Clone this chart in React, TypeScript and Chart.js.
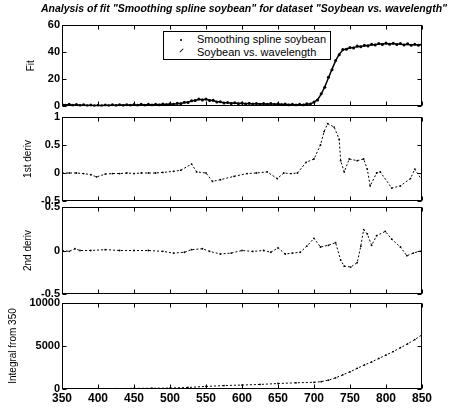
import React, { useEffect, useRef } from "react";
import { Chart, registerables } from "chart.js";
Chart.register(...registerables);

const WAVELENGTHS = [
  350, 355, 360, 365, 370, 375, 380, 385, 390, 395, 400, 405, 410, 415, 420, 425, 430, 435, 440, 445,
  450, 455, 460, 465, 470, 475, 480, 485, 490, 495, 500, 505, 510, 515, 520, 525, 530, 535, 540, 545,
  550, 555, 560, 565, 570, 575, 580, 585, 590, 595, 600, 605, 610, 615, 620, 625, 630, 635, 640, 645,
  650, 655, 660, 665, 670, 675, 680, 685, 690, 695, 700, 705, 710, 715, 720, 725, 730, 735, 740, 745,
  750, 755, 760, 765, 770, 775, 780, 785, 790, 795, 800, 805, 810, 815, 820, 825, 830, 835, 840, 845, 850,
];
const FIT_VALUES = [
  1.3, 1.2, 1.2, 1.1, 1.1, 1.0, 0.9, 0.8, 0.7, 0.6, 0.6, 0.7, 0.8, 0.8, 0.9, 0.9, 1.0, 1.0, 1.0, 1.1,
  1.1, 1.1, 1.2, 1.2, 1.2, 1.3, 1.3, 1.4, 1.4, 1.5, 1.6, 1.8, 2.0, 2.3, 2.7, 3.2, 3.9, 4.6, 5.0, 5.1,
  5.0, 4.7, 4.2, 3.6, 3.1, 2.8, 2.6, 2.5, 2.4, 2.3, 2.2, 2.1, 2.0, 2.0, 1.9, 1.9, 1.8, 1.8, 1.8, 1.7,
  1.6, 1.5, 1.4, 1.4, 1.3, 1.3, 1.3, 1.4, 1.6, 2.0, 3.0, 5.0, 9.0, 14.5, 21.0, 27.5, 33.5, 38.5, 41.5, 42.5,
  43.0, 43.5, 44.0, 44.3, 44.6, 45.0, 45.3, 45.6, 45.9, 46.1, 46.2, 46.2, 46.1, 46.0, 45.8, 45.7, 45.6, 45.5, 45.4, 45.4, 45.4,
];
const DATA_VALUES = [
  1.6, 0.9, 1.5, 0.8, 1.4, 0.7, 1.2, 0.5, 1.0, 0.4, 0.9, 0.4, 1.1, 0.5, 1.2, 0.6, 1.3, 0.7, 1.3, 0.8,
  1.4, 0.8, 1.5, 0.9, 1.5, 1.0, 1.6, 1.1, 1.7, 1.2, 1.9, 1.5, 2.3, 2.0, 3.0, 2.9, 4.2, 4.3, 5.4, 4.8,
  5.4, 4.3, 4.6, 3.3, 3.4, 2.5, 2.9, 2.2, 2.7, 2.0, 2.5, 1.8, 2.3, 1.7, 2.2, 1.6, 2.1, 1.5, 2.1, 1.4,
  1.9, 1.2, 1.7, 1.1, 1.6, 1.0, 1.6, 1.1, 1.9, 1.7, 3.3, 4.7, 9.4, 14.1, 21.4, 27.1, 33.9, 38.1, 41.9, 42.1,
  43.5, 43.0, 44.5, 43.9, 45.1, 44.6, 45.8, 45.2, 46.4, 45.7, 46.7, 45.8, 46.6, 45.6, 46.3, 45.3, 46.1, 45.1, 45.9, 45.0, 45.8,
];

const DERIV1_X = [
  350, 360, 370, 380, 390, 398, 410, 420, 430, 440, 450, 460, 470, 480, 490, 505, 515, 530, 537, 550,
  559, 570, 589, 607, 620, 635, 649, 658, 668, 677, 689, 700, 709, 714, 719, 728, 735, 737, 742, 749,
  760, 769, 774, 778, 787, 792, 808, 820, 834, 840, 850,
];
const DERIV1_Y = [
  0, 0, 0, -0.01, -0.03, -0.07, -0.02, -0.01, -0.01, 0, -0.01, 0, 0, 0, 0.01, 0.03, 0.05, 0.16, 0.02, 0,
  -0.15, -0.12, -0.06, -0.01, 0, 0.02, -0.1, 0, -0.01, 0, 0.19, 0.25, 0.5, 0.74, 0.88, 0.82, 0.6, 0.22, 0.02, 0.25,
  0.22, 0.25, 0.07, -0.23, 0, 0.02, -0.27, -0.23, -0.1, 0.07, -0.13,
];

const DERIV2_X = [
  350, 360, 368, 375, 390, 410, 430, 450, 470, 490, 505, 520, 530, 545, 555, 570, 585, 600, 615, 630,
  640, 650, 660, 670, 681, 690, 700, 709, 720, 730, 737, 742, 751, 760, 765, 769, 774, 780, 787, 799,
  808, 820, 829, 838, 850,
];
const DERIV2_Y = [
  0, -0.01, 0.02, 0, 0, 0.01, 0, 0, 0, -0.01, -0.03, -0.02, 0.01, 0.02, -0.01, -0.04, -0.03, 0, -0.01, 0,
  -0.02, 0.03, -0.04, -0.03, -0.02, 0.05, 0.14, 0.04, 0.06, 0.09, -0.11, -0.18, -0.19, -0.14, 0.05, 0.24, 0.19, 0.06, 0.17, 0.22,
  0.13, 0.04, -0.06, -0.03, 0,
];

const INTEGRAL_X = [
  350, 375, 400, 425, 450, 475, 500, 525, 550, 575, 600, 625, 650, 675, 700, 710, 720, 730, 740, 750,
  760, 770, 780, 790, 800, 810, 820, 830, 840, 850,
];
const INTEGRAL_Y = [
  0, 20, 40, 55, 70, 85, 110, 180, 300, 400, 460, 530, 640, 720, 780, 850, 1030, 1300, 1650, 2000,
  2400, 2800, 3150, 3550, 3950, 4350, 4800, 5250, 5750, 6300,
];

const X_MIN = 350;
const X_MAX = 850;
const X_STEP = 50;

const TITLE = 'Analysis of fit "Smoothing spline soybean" for dataset "Soybean vs. wavelength"';
const LEGEND_LABELS = ["Smoothing spline soybean", "Soybean vs. wavelength"];
const Y_TITLES = ["Fit", "1st deriv", "2nd deriv", "Integral from 350"];

const FONT = "'Liberation Sans', Arial, Helvetica, sans-serif";

const pts = (xs: number[], ys: number[]) => xs.map((x, i) => ({ x, y: ys[i] }));

const boxPlugin = {
  id: "matlabBox",
  afterDraw(chart: any) {
    const { ctx, chartArea: a, scales } = chart;
    ctx.save();
    ctx.strokeStyle = "#000";
    ctx.lineWidth = 1;
    const l = Math.round(a.left) + 0.5;
    const r = Math.round(a.right) - 0.5;
    const t = Math.round(a.top) + 0.5;
    const b = Math.round(a.bottom) - 0.5;
    ctx.strokeRect(l, t, r - l, b - t);
    const L = 4;
    ctx.beginPath();
    scales.x.ticks.forEach((tk: any) => {
      const px = Math.round(scales.x.getPixelForValue(tk.value)) + 0.5;
      ctx.moveTo(px, b);
      ctx.lineTo(px, b - L);
      ctx.moveTo(px, t);
      ctx.lineTo(px, t + L);
    });
    scales.y.ticks.forEach((tk: any) => {
      const py = Math.round(scales.y.getPixelForValue(tk.value)) + 0.5;
      ctx.moveTo(l, py);
      ctx.lineTo(l + L, py);
      ctx.moveTo(r, py);
      ctx.lineTo(r - L, py);
    });
    ctx.stroke();
    ctx.restore();
  },
};

type Panel = {
  top: number;
  height: number;
  padTop: number;
  padBottom: number;
  xHeight: number;
  showX: boolean;
  yMin: number;
  yMax: number;
  yStep: number;
  yTitle: string;
  titlePad: number;
  datasets: any[];
};

const dotted = (data: any[]) => ({
  data,
  borderColor: "#000",
  backgroundColor: "#000",
  borderWidth: 1,
  borderDash: [2, 2],
  pointRadius: 0.9,
  pointBorderWidth: 0,
  pointBackgroundColor: "#000",
  tension: 0,
});

const PANELS: Panel[] = [
  {
    top: 0, height: 115, padTop: 25, padBottom: 8, xHeight: 0, showX: false,
    yMin: 0, yMax: 60, yStep: 20, yTitle: Y_TITLES[0], titlePad: 25,
    datasets: [
      {
        data: pts(WAVELENGTHS, DATA_VALUES),
        showLine: false,
        pointRadius: 1.5,
        pointBorderWidth: 0,
        pointBackgroundColor: "#000",
        borderColor: "#000",
      },
      {
        data: pts(WAVELENGTHS, FIT_VALUES),
        borderColor: "#000",
        borderWidth: 1.5,
        pointRadius: 0,
        tension: 0,
      },
    ],
  },
  {
    top: 105, height: 105, padTop: 12, padBottom: 9, xHeight: 0, showX: false,
    yMin: -0.5, yMax: 1, yStep: 0.5, yTitle: Y_TITLES[1], titlePad: 22,
    datasets: [dotted(pts(DERIV1_X, DERIV1_Y))],
  },
  {
    top: 195, height: 110, padTop: 12, padBottom: 11, xHeight: 0, showX: false,
    yMin: -0.5, yMax: 0.5, yStep: 0.5, yTitle: Y_TITLES[2], titlePad: 22,
    datasets: [dotted(pts(DERIV2_X, DERIV2_Y))],
  },
  {
    top: 290, height: 118, padTop: 13, padBottom: 0, xHeight: 19, showX: true,
    yMin: 0, yMax: 10000, yStep: 5000, yTitle: Y_TITLES[3], titlePad: 7,
    datasets: [dotted(pts(INTEGRAL_X, INTEGRAL_Y))],
  },
];

function PanelChart({ p }: { p: Panel }) {
  const ref = useRef<HTMLCanvasElement>(null);
  useEffect(() => {
    if (!ref.current) return;
    const chart = new Chart(ref.current, {
      type: "line",
      data: { datasets: p.datasets },
      plugins: [boxPlugin],
      options: {
        animation: false,
        responsive: false,
        devicePixelRatio: 1,
        layout: { padding: { top: p.padTop, bottom: p.padBottom, left: 0, right: 30 } },
        plugins: { legend: { display: false }, tooltip: { enabled: false }, title: { display: false } },
        scales: {
          x: {
            type: "linear",
            min: X_MIN,
            max: X_MAX,
            grid: { display: false, drawTicks: false, tickLength: 0 },
            border: { display: false },
            ticks: {
              display: p.showX,
              stepSize: X_STEP,
              color: "#000",
              padding: 2,
              font: { family: FONT, size: 12, weight: "bold" },
              callback: (v: any) => String(v),
            },
            afterFit: (s: any) => {
              s.height = p.xHeight;
            },
          },
          y: {
            type: "linear",
            min: p.yMin,
            max: p.yMax,
            grid: { display: false, drawTicks: false, tickLength: 0 },
            border: { display: false },
            ticks: {
              stepSize: p.yStep,
              color: "#000",
              padding: 2,
              font: { family: FONT, size: 11, weight: "bold" },
              callback: (v: any) => String(v),
            },
            title: {
              display: true,
              text: p.yTitle,
              color: "#000",
              font: { family: FONT, size: 10 },
              padding: { top: p.titlePad, bottom: 0 },
            },
            afterFit: (s: any) => {
              s.width = 62;
            },
          },
        },
      } as any,
    });
    return () => chart.destroy();
  }, [p]);
  return (
    <canvas
      ref={ref}
      width={452}
      height={p.height}
      style={{ position: "absolute", left: 0, top: p.top, width: 452, height: p.height }}
    />
  );
}

export default function App() {
  useEffect(() => {
    document.body.style.margin = "0";
  }, []);
  return (
    <div style={{ position: "relative", width: 452, height: 408, background: "#fff", overflow: "hidden", fontFamily: FONT }}>
      {PANELS.map((p, i) => (
        <PanelChart key={i} p={p} />
      ))}
      <div
        style={{
          position: "absolute",
          left: 0,
          top: 2,
          width: 488,
          textAlign: "center",
          fontSize: 10.5,
          fontWeight: "bold",
          fontStyle: "italic",
          whiteSpace: "nowrap",
          color: "#000",
        }}
      >
        {TITLE}
      </div>
      <div
        style={{
          position: "absolute",
          left: 163,
          top: 31,
          width: 168,
          height: 29,
          border: "1px solid #000",
          background: "#fff",
          boxSizing: "border-box",
          fontSize: 11,
          color: "#000",
        }}
      >
        <div style={{ position: "absolute", left: 16, top: 7, width: 2, height: 2, background: "#000", borderRadius: 1 }} />
        <div style={{ position: "absolute", left: 33, top: 1, lineHeight: "13px", whiteSpace: "nowrap" }}>{LEGEND_LABELS[0]}</div>
        <div style={{ position: "absolute", left: 15, top: 18, width: 5, height: 1, background: "#000", transform: "rotate(-45deg)" }} />
        <div style={{ position: "absolute", left: 33, top: 14, lineHeight: "13px", whiteSpace: "nowrap" }}>{LEGEND_LABELS[1]}</div>
      </div>
    </div>
  );
}
